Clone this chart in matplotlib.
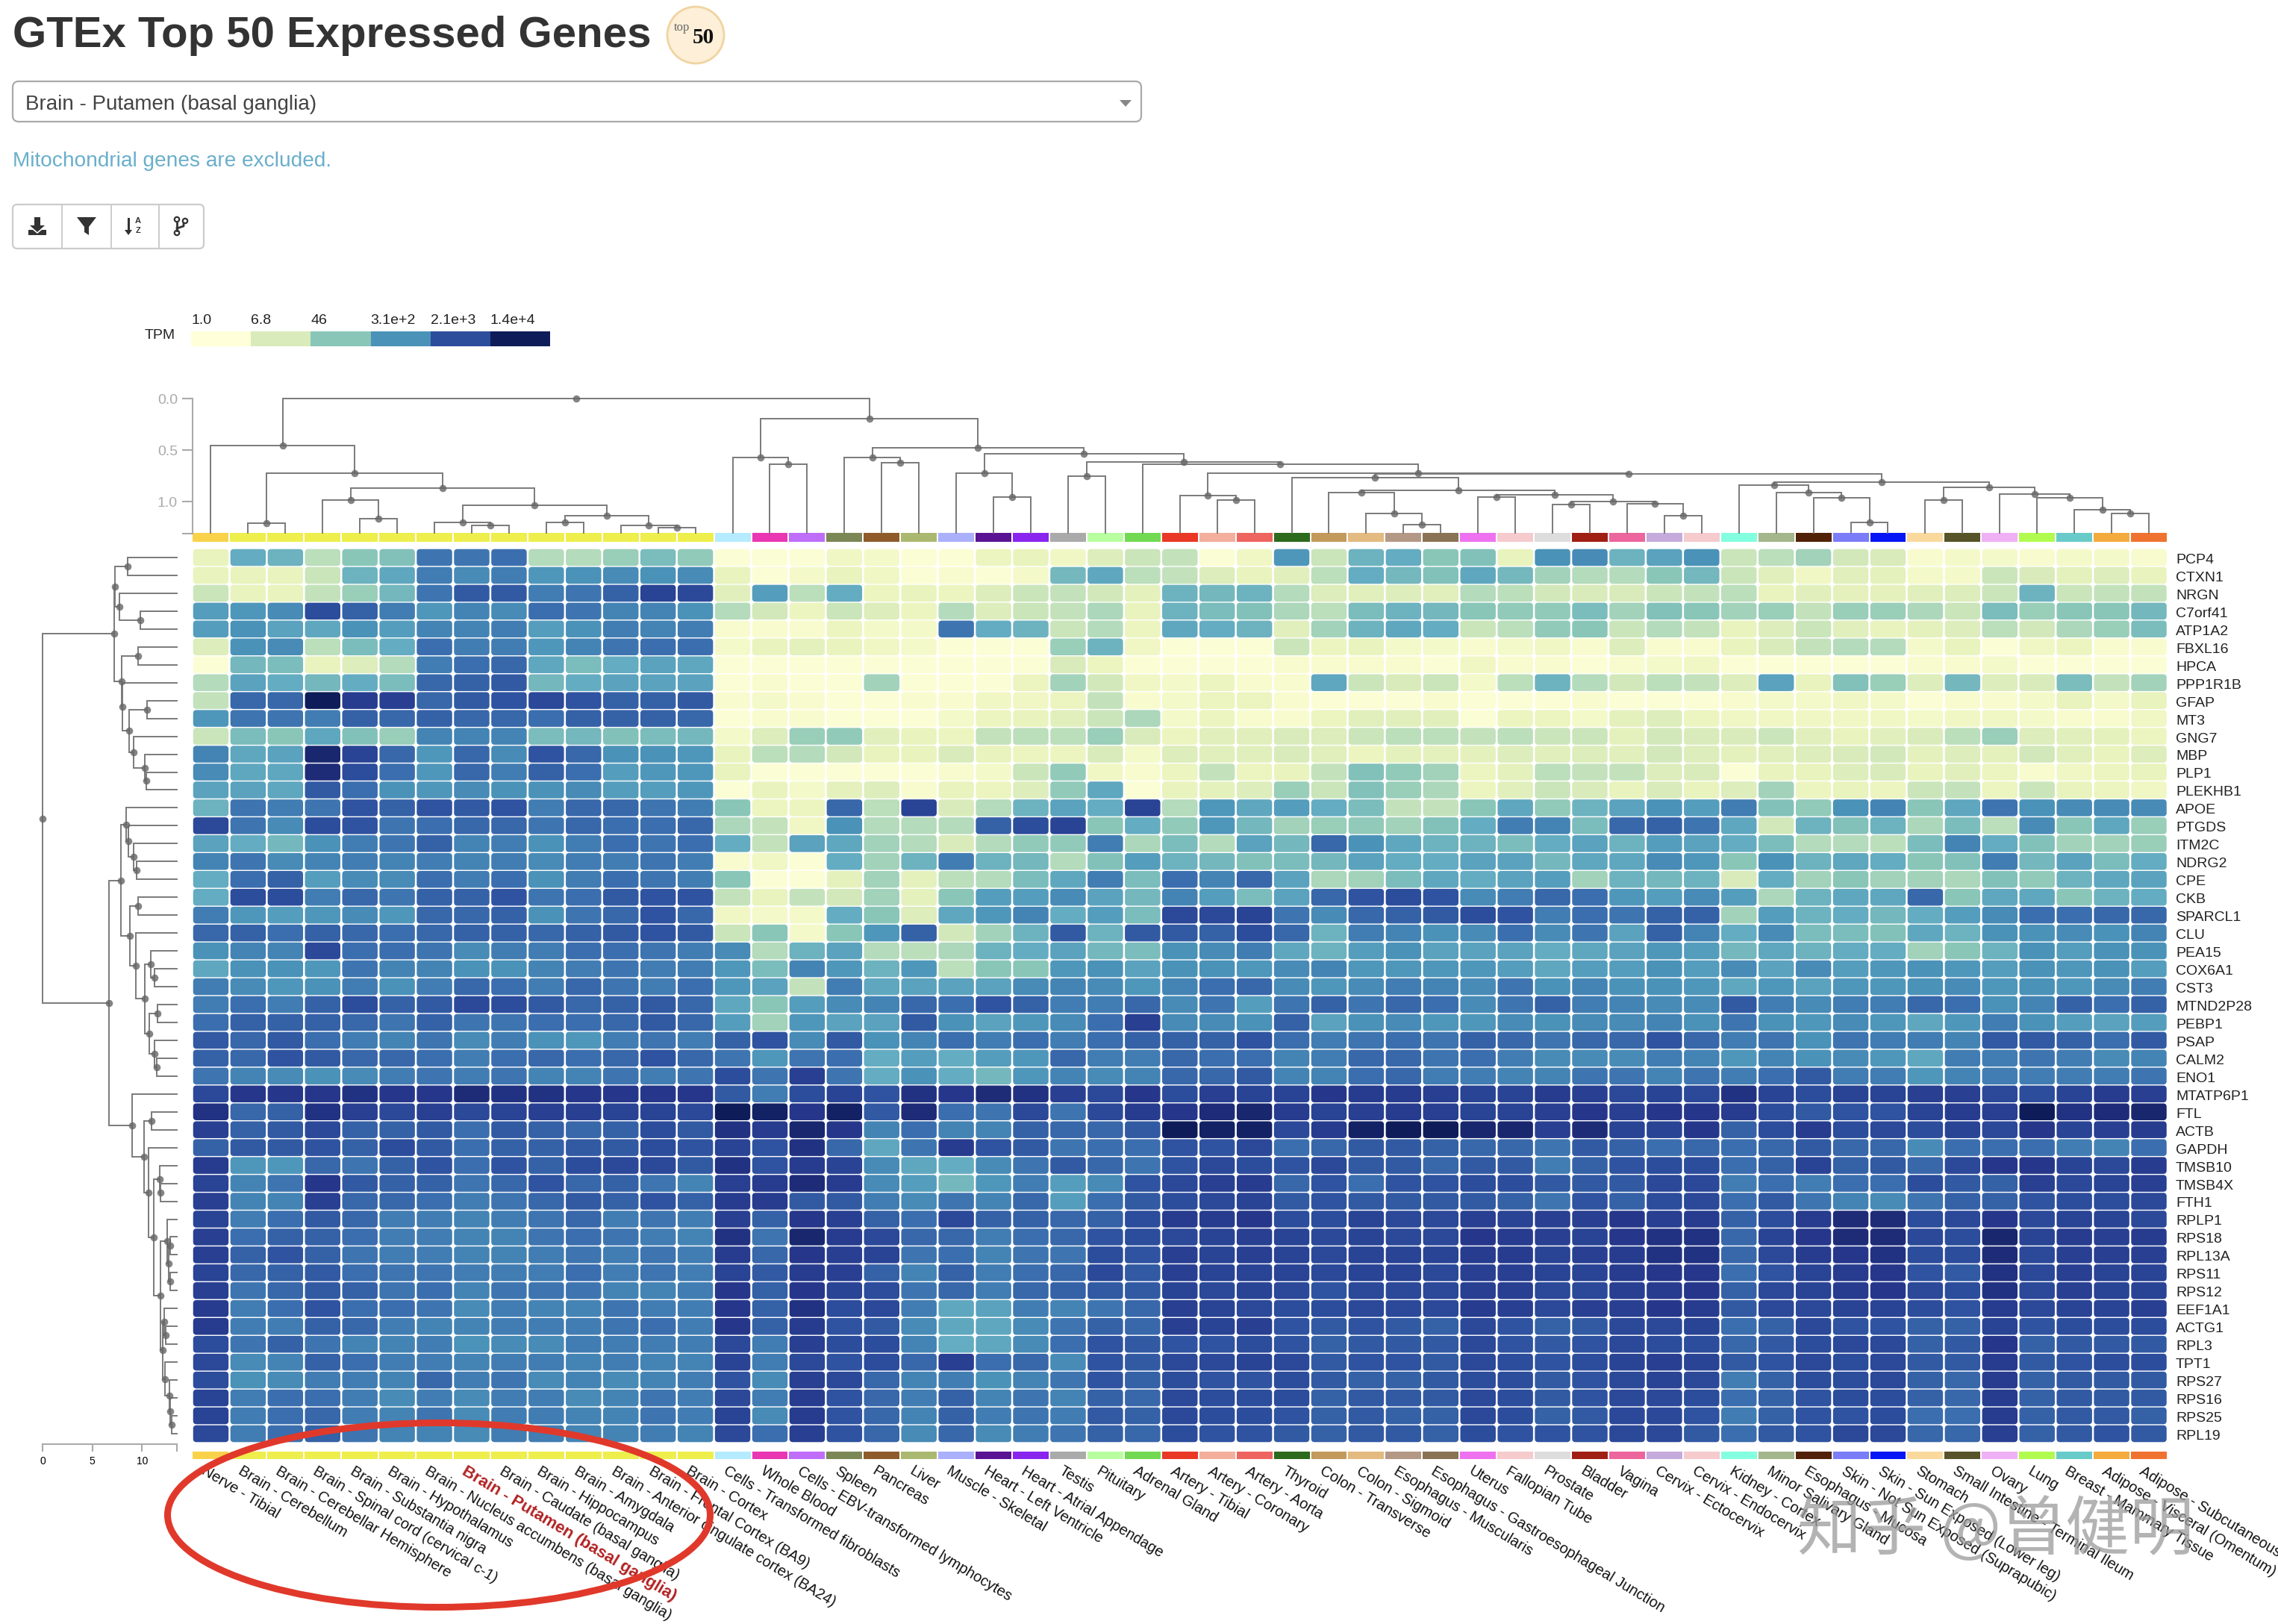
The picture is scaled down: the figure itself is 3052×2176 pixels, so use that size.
#--utf-8--
# GTEx top 50 expressed genes, clustered heatmap with dendrograms
import numpy as np
import matplotlib
matplotlib.use("Agg")
import matplotlib.pyplot as plt
from matplotlib.colors import LinearSegmentedColormap
from matplotlib.patches import FancyBboxPatch, Rectangle, Ellipse, Polygon, Circle

plt.rcParams['font.family'] = ['Liberation Sans', 'DejaVu Sans']

W, H = 3052, 2176
DPI = 100

tissues = ["Nerve - Tibial", "Brain - Cerebellum", "Brain - Cerebellar Hemisphere", "Brain - Spinal cord (cervical c-1)",
           "Brain - Substantia nigra", "Brain - Hypothalamus", "Brain - Nucleus accumbens (basal ganglia)",
           "Brain - Putamen (basal ganglia)", "Brain - Caudate (basal ganglia)", "Brain - Hippocampus", "Brain - Amygdala",
           "Brain - Anterior cingulate cortex (BA24)", "Brain - Frontal Cortex (BA9)", "Brain - Cortex",
           "Cells - Transformed fibroblasts", "Whole Blood", "Cells - EBV-transformed lymphocytes", "Spleen", "Pancreas",
           "Liver", "Muscle - Skeletal", "Heart - Left Ventricle", "Heart - Atrial Appendage", "Testis", "Pituitary",
           "Adrenal Gland", "Artery - Tibial", "Artery - Coronary", "Artery - Aorta", "Thyroid", "Colon - Transverse",
           "Colon - Sigmoid", "Esophagus - Muscularis", "Esophagus - Gastroesophageal Junction", "Uterus", "Fallopian Tube",
           "Prostate", "Bladder", "Vagina", "Cervix - Ectocervix", "Cervix - Endocervix", "Kidney - Cortex",
           "Minor Salivary Gland", "Esophagus - Mucosa", "Skin - Not Sun Exposed (Suprapubic)", "Skin - Sun Exposed (Lower leg)",
           "Stomach", "Small Intestine - Terminal Ileum", "Ovary", "Lung", "Breast - Mammary Tissue",
           "Adipose - Visceral (Omentum)", "Adipose - Subcutaneous"]
tissue_colors = ["#F9D24A"] + ["#EEEE4D"] * 13 + [
    "#B5EBFF", "#E936B3", "#BF6EFA", "#7B8755", "#8F5B2B", "#ABB86F", "#AAB0FC", "#5A1493", "#8A25F0", "#AAAAAA",
    "#B8FFA0", "#72D952", "#E93826", "#F4AE9C", "#EE6560", "#2D6A1C", "#C39A5C", "#E3BA7F", "#B49886", "#8A7355",
    "#EE72F0", "#F6CBCD", "#DDDDDD", "#A01F14", "#EC659C", "#C5ABDC", "#F6CBCD", "#83FFE0", "#A3B68C", "#512207",
    "#7A7CF8", "#0616F5", "#FAD99D", "#565428", "#F0B0F5", "#B1FB4F", "#68CBC9", "#F4AB3E", "#EF7231"]
highlight = "Brain - Putamen (basal ganglia)"

genes = ["PCP4", "CTXN1", "NRGN", "C7orf41", "ATP1A2", "FBXL16", "HPCA", "PPP1R1B", "GFAP", "MT3", "GNG7", "MBP", "PLP1",
         "PLEKHB1", "APOE", "PTGDS", "ITM2C", "NDRG2", "CPE", "CKB", "SPARCL1", "CLU", "PEA15", "COX6A1", "CST3", "MTND2P28",
         "PEBP1", "PSAP", "CALM2", "ENO1", "MTATP6P1", "FTL", "ACTB", "GAPDH", "TMSB10", "TMSB4X", "FTH1", "RPLP1", "RPS18",
         "RPL13A", "RPS11", "RPS12", "EEF1A1", "ACTG1", "RPL3", "TPT1", "RPS27", "RPS16", "RPS25", "RPL19"]

# colour level of each cell, 10 units per legend step (0 = 1.0 TPM, 50 = 1.4e+4 TPM)
PCP4 = [6,25,24,14,20,21,34,34,35,15,15,18,22,19, 1,1,1,4,3,1,1,5,6,4,9,12,13,1,4,29,12,24,25,20, 21,6,30,31,24,27,30,12,14,17,11,10,2,3,3,2,3,3,2]
CTXN1 = [6,6,6,12,24,26,33,31,33,29,30,31,30,31, 6,1,3,6,4,1,2,1,3,23,26,14,13,9,6,8,14,25,23,21, 26,23,17,15,15,20,23,12,8,4,8,7,3,3,12,10,7,9,6]
NRGN = [12,6,6,13,18,23,34,38,38,33,34,37,42,41, 8,28,14,25,5,6,5,9,12,13,11,7,24,23,24,15,9,8,9,8, 15,14,11,10,10,12,13,14,6,8,7,7,8,9,12,24,12,13,13]
C7orf41 = [28,29,31,40,37,33,29,32,31,35,34,32,32,30, 15,11,5,12,9,5,15,9,12,13,16,6,24,22,21,16,14,22,24,23, 20,19,19,22,17,21,20,17,18,13,18,18,16,12,22,18,20,20,23]
ATP1A2 = [28,30,27,26,30,28,32,32,33,28,30,33,32,33, 2,2,2,5,3,3,34,25,24,12,15,5,26,25,24,8,17,24,26,25, 12,14,19,20,12,15,13,6,9,12,8,6,7,9,14,11,16,18,22]
FBXL16 = [9,30,31,14,22,25,35,33,33,29,32,34,35,35, 3,6,7,6,4,3,1,1,1,18,24,4,1,1,1,12,5,6,3,3, 2,3,4,2,9,2,2,6,10,13,15,15,3,6,1,4,5,2,2]
HPCA = [1,23,22,6,9,15,33,35,36,26,22,25,27,26, 1,1,1,1,1,1,1,1,1,10,5,1,1,1,1,2,2,2,2,1, 4,2,2,1,2,3,4,1,1,1,1,1,2,2,3,1,1,1,1]
PPP1R1B = [15,27,25,23,25,22,36,37,38,23,25,27,27,27, 1,2,1,1,17,1,1,1,5,17,11,4,3,5,2,2,26,12,10,12, 3,14,24,15,11,14,13,9,27,6,21,18,9,23,9,10,22,13,17]
GFAP = [13,36,36,50,44,43,36,38,39,41,39,37,37,38, 2,3,2,1,1,2,2,4,4,5,13,2,3,5,5,2,1,1,1,2, 1,1,1,2,1,1,1,2,3,3,4,3,1,2,2,3,6,3,6]
MT3 = [29,34,34,33,37,36,37,36,36,35,37,37,37,36, 1,2,2,1,1,1,3,5,6,8,12,16,3,5,2,2,5,8,8,8, 1,5,5,3,7,9,5,4,4,4,4,4,3,4,4,3,2,2,4]
GNG7 = [12,22,20,26,21,18,32,32,32,22,23,21,22,23, 3,9,18,19,8,6,5,13,14,14,18,10,5,8,8,10,9,12,14,14, 13,14,12,12,7,11,10,10,12,8,6,8,10,14,18,9,8,7,5]
MBP = [32,26,27,48,42,36,29,36,31,39,36,30,30,29, 6,14,15,11,6,6,10,6,5,5,10,3,9,8,8,10,8,5,7,7, 7,9,8,9,8,11,9,7,8,9,10,11,7,9,7,11,8,6,9]
PLP1 = [31,26,26,47,40,35,29,36,33,37,35,28,29,29, 6,1,1,1,1,1,2,3,12,19,4,2,5,13,5,6,13,21,19,17, 5,7,14,13,13,9,10,1,6,6,9,10,6,8,5,2,4,5,6]
PLEKHB1 = [27,27,26,38,35,30,29,31,30,30,31,28,28,29, 1,6,3,7,9,2,6,5,9,19,26,1,6,7,9,18,12,21,18,16, 5,8,12,10,6,10,6,9,17,5,6,5,12,13,5,12,6,5,4]
APOE = [24,34,33,34,39,37,39,38,39,33,36,36,34,33, 20,5,5,36,14,42,10,15,24,27,25,42,15,29,26,28,25,22,13,13, 20,26,19,24,27,30,28,33,21,19,30,32,20,26,34,30,31,31,31]
PTGDS = [41,34,31,40,39,34,35,36,36,34,36,35,35,36, 16,13,4,30,15,15,15,37,40,42,20,25,19,29,23,17,18,19,17,21, 25,33,32,22,36,37,34,26,11,24,21,24,16,22,14,31,20,26,18]
ITM2C = [27,25,23,30,33,34,37,32,33,30,33,35,34,35, 25,13,27,26,17,15,10,15,19,19,33,16,22,15,27,23,36,30,26,24, 24,22,25,27,24,28,27,25,22,15,15,14,22,32,25,21,17,17,18]
NDRG2 = [32,34,31,32,33,32,33,32,33,31,33,33,34,33, 2,4,1,25,17,24,33,24,23,15,21,28,24,23,21,22,23,27,25,25, 27,27,23,26,26,31,29,20,30,24,26,25,20,21,33,23,27,22,25]
CPE = [25,35,37,28,31,31,35,33,35,30,33,35,34,33, 20,1,1,7,17,7,14,15,22,26,33,22,35,32,36,27,16,17,22,26, 25,27,28,17,24,23,24,10,25,17,20,17,17,16,21,19,24,26,27]
CKB = [25,40,40,33,36,34,37,37,39,34,35,38,39,39, 13,6,13,11,17,7,20,28,28,31,27,23,32,28,22,27,36,39,40,39, 31,33,36,35,29,28,31,28,16,24,26,26,36,20,26,26,20,24,25]
SPARCL1 = [33,29,28,29,31,29,36,36,37,30,34,36,39,36, 4,3,3,25,20,9,26,29,32,25,28,22,41,41,42,34,31,36,37,38, 40,39,33,35,34,37,37,17,28,24,25,23,25,28,31,35,35,36,36]
CLU = [36,37,35,37,36,35,36,37,37,36,37,38,39,38, 12,20,3,20,29,37,11,17,24,38,24,38,38,37,40,36,24,33,32,30, 31,35,31,34,27,37,32,25,31,22,22,21,26,24,30,30,31,30,32]
PEA15 = [30,32,32,41,35,35,34,31,33,33,35,35,34,33, 31,15,24,27,15,14,16,24,25,27,23,22,30,31,33,26,24,28,30,27, 27,27,25,26,27,29,28,23,26,24,25,25,17,20,24,30,28,30,30]
COX6A1 = [26,30,30,29,34,32,32,30,30,32,33,34,33,33, 29,22,32,29,24,29,14,20,20,29,30,27,30,30,29,31,32,29,29,29, 29,28,26,28,28,30,28,31,27,31,28,29,30,29,28,30,29,30,28]
CST3 = [33,31,29,30,33,30,33,36,35,33,36,34,33,35, 29,27,13,33,26,27,27,27,31,32,31,29,32,35,36,31,29,31,33,32, 31,34,30,32,30,30,29,26,29,27,29,29,30,31,29,30,29,31,33]
MTND2P28 = [33,35,33,37,40,37,38,41,40,38,36,37,38,36, 26,20,28,31,32,36,35,39,37,33,33,36,31,34,28,34,37,34,36,35, 31,34,37,33,32,31,31,38,33,31,33,33,36,35,30,32,37,35,37]
PEBP1 = [35,37,37,37,36,34,37,34,34,35,35,36,38,36, 28,17,29,27,27,38,30,27,29,31,35,43,31,31,30,37,27,30,31,29, 29,31,30,31,31,32,30,34,30,29,31,29,26,29,33,30,28,27,28]
PSAP = [38,36,38,35,33,32,34,31,33,30,29,33,34,33, 37,39,31,38,30,32,35,33,35,33,35,37,37,37,39,35,33,34,35,34, 37,36,34,36,36,39,36,33,34,30,34,33,33,32,38,38,37,35,38]
CALM2 = [37,36,39,38,36,36,35,33,35,36,35,36,39,36, 34,29,34,35,25,28,25,28,29,36,33,33,36,35,35,32,33,36,36,34, 35,33,31,31,31,33,32,29,32,30,31,29,26,33,33,34,33,31,32]
ENO1 = [34,32,31,30,31,33,34,33,34,32,32,34,33,34, 40,34,43,34,25,30,25,23,29,32,31,32,36,36,38,32,32,35,36,33, 33,32,32,34,34,32,34,33,35,38,33,33,29,32,33,33,33,33,34]
MTATP6P1 = [41,45,45,45,46,45,45,47,46,46,45,45,45,45, 38,33,40,42,39,46,45,47,46,43,41,45,40,43,42,42,45,44,44,43, 42,42,44,43,41,42,41,46,42,40,42,42,43,43,41,40,42,44,43]
FTL = [46,36,37,46,43,41,43,41,42,43,43,42,42,41, 50,49,45,49,38,47,35,34,41,34,41,44,45,47,48,44,42,43,44,43, 42,42,43,45,43,45,45,44,40,38,39,39,42,44,43,50,46,47,48]
ACTB = [43,37,38,41,37,37,38,35,38,37,36,37,40,38, 46,44,48,45,32,35,32,32,37,36,36,38,50,49,49,41,44,49,50,50, 48,48,43,47,42,42,45,37,40,44,40,41,40,42,41,45,42,43,44]
GAPDH = [37,38,38,39,37,40,38,35,37,37,38,38,40,39, 42,39,46,36,26,34,44,39,38,34,35,35,39,39,41,35,36,38,38,37, 36,36,34,38,37,35,36,35,36,38,36,36,31,35,35,35,33,32,35]
TMSB10 = [44,29,29,36,34,37,39,35,39,37,40,41,41,38, 46,39,44,42,31,26,25,31,34,38,36,34,39,41,40,39,41,38,38,36, 38,38,33,37,39,40,40,35,37,42,37,38,36,41,45,45,42,41,44]
TMSB4X = [42,32,34,45,38,37,37,34,36,39,36,37,34,32, 43,44,47,44,31,28,23,29,33,28,31,39,41,43,44,36,39,35,39,39, 40,40,38,38,38,41,41,33,35,33,35,35,40,38,37,43,41,42,43]
FTH1 = [43,32,32,43,36,36,35,33,34,36,38,37,39,37, 44,44,38,38,33,31,34,32,36,28,35,38,40,41,42,38,39,38,38,38, 38,37,34,39,37,40,41,35,38,34,32,31,34,37,37,39,40,40,41]
RPLP1 = [42,33,35,38,36,33,33,32,33,34,36,33,34,33, 43,37,45,43,37,35,41,37,37,36,37,40,44,44,45,40,40,42,41,41, 43,42,43,43,45,43,44,37,40,44,47,47,40,41,45,41,42,42,41]
RPS18 = [43,35,37,37,35,33,33,32,32,34,35,34,33,32, 46,34,48,44,41,36,36,33,35,36,39,40,41,42,43,42,41,42,41,41, 45,44,43,42,45,46,46,36,42,45,47,47,41,40,48,42,44,43,44]
RPL13A = [43,37,39,37,34,33,33,32,32,33,34,33,34,33, 44,36,45,43,42,34,35,32,34,34,40,39,43,42,43,42,41,42,42,42, 44,44,42,43,44,46,46,36,41,44,45,46,40,40,47,41,43,43,43]
RPS11 = [42,36,37,38,35,34,34,33,33,33,35,33,34,33, 42,38,44,43,37,32,37,33,35,36,41,38,43,42,42,42,41,42,42,41, 43,43,42,42,44,45,45,35,39,42,44,45,39,38,46,41,43,42,42]
RPS12 = [43,34,36,38,37,34,35,32,34,34,34,32,32,33, 45,37,45,42,40,34,36,33,36,37,38,38,42,41,42,41,39,41,41,41, 43,43,41,41,43,44,45,37,41,42,44,45,41,40,46,41,43,42,42]
EEF1A1 = [44,33,35,39,35,35,34,31,33,32,32,34,33,33, 45,37,46,40,41,33,26,27,33,32,34,36,43,42,41,40,40,41,41,41, 44,43,41,43,43,45,44,38,41,41,42,42,40,39,44,41,42,42,43]
ACTG1 = [44,33,33,37,36,33,32,32,33,33,33,34,35,33, 45,37,44,39,38,31,26,26,31,34,37,36,43,42,43,39,38,39,38,37, 41,39,37,38,41,41,42,35,37,41,39,39,37,37,42,39,40,40,40]
RPL3 = [40,34,37,34,32,32,33,30,31,31,33,33,33,33, 41,33,43,40,40,32,25,26,31,35,39,38,39,39,40,39,37,38,38,38, 41,39,38,39,41,40,40,36,38,40,41,41,37,38,45,37,38,38,38]
TPT1 = [41,31,32,37,35,33,33,32,33,33,32,33,32,32, 42,33,41,39,40,36,43,35,36,31,39,38,41,41,42,41,38,39,39,38, 41,40,39,40,42,43,42,38,39,41,40,41,38,38,44,38,39,40,40]
RPS27 = [40,30,31,33,33,32,36,33,34,31,32,31,32,33, 39,31,43,41,36,32,33,30,32,34,39,37,40,39,39,40,38,37,37,38, 40,40,38,39,41,42,41,33,37,40,40,41,37,36,44,37,38,38,38]
RPS16 = [42,33,35,35,33,31,33,31,33,33,31,32,34,33, 41,33,44,39,36,33,37,32,34,32,37,36,41,40,40,40,37,38,38,38, 41,40,38,39,41,41,40,35,37,39,40,40,37,36,44,37,38,38,38]
RPS25 = [42,33,35,36,33,32,34,31,33,33,32,32,34,33, 42,31,44,39,36,32,37,33,34,33,38,37,41,40,40,39,37,38,37,37, 41,40,37,38,41,41,39,33,37,39,39,40,35,35,44,37,38,38,37]
RPL19 = [41,33,35,37,34,32,32,31,33,33,32,32,33,32, 41,35,43,39,36,31,36,31,33,34,37,36,40,39,39,38,37,38,38,37, 40,39,39,39,41,41,38,35,38,39,41,41,36,36,43,37,38,39,38]

# merge trees: (height, child, child), an int is a leaf index
brain_tree = (0.725, (1.21, 1, 2),
              (0.865, (0.985, 3, (1.165, 4, 5)),
               (1.035, (1.2, 6, (1.23, 7, 8)),
                (1.135, (1.2, 9, 10), (1.23, 11, (1.25, 12, 13))))))
skin_tree = (0.84, 41, (0.91, 42, (0.965, 43, (1.2, 44, 45))))
gut_tree = (0.86, (0.985, 46, 47), (0.93, 48, (0.965, 49, (1.08, 50, (1.115, 51, 52)))))
colon_tree = (0.89, (0.91, 30, (1.115, 31, (1.225, 32, 33))),
              (0.935, (0.957, 34, 35), (1.0, (1.03, 36, 37), (1.02, 38, (1.135, 39, 40)))))
rest_tree = (0.536, (0.725, 20, (0.957, 21, 22)),
             (0.616, (0.754, 23, 24),
              (0.637, 25, (0.725, (0.94, 26, (0.985, 27, 28)),
                           (0.73, (0.768, 29, colon_tree), (0.81, skin_tree, gut_tree))))))
col_tree = (0.0, (0.457, 0, brain_tree),
            (0.196, (0.57, 14, (0.64, 15, 16)),
             (0.478, (0.574, 17, (0.623, 18, 19)), rest_tree)))

row_tree = (0.0,
            (7.2, (7.25, (8.55, 0, 1), (7.73, 2, (9.83, 3, 4))),
             (7.97, (9.6, 5, 6),
              (8.05, 7, (8.72, (10.48, 8, 9),
                         (9.17, 10, (10.28, 11, (10.4, 12, 13))))))),
            (6.68,
             (7.88, (8.42, 14, (8.65, 15, (9.15, 16, (9.47, 17, 18)))),
              (8.78, (9.58, 19, 20),
               (9.38, 21, (10.28, (10.85, 22, (11.25, 23, 24)),
                           (10.75, (11.53, 25, 26), (11.23, 27, (11.48, 28, 29))))))),
             (9.02, 30,
              (10.18, (10.95, 31, 32),
               (10.65, 33,
                (11.2, (11.78, 34, (11.85, 35, 36)),
                 (11.85, (12.55, 37, (12.7, (12.85, 38, 39), (12.85, 40, 41))),
                  (12.05, (12.2, 42, (12.4, 43, 44)),
                   (12.28, 45, (12.75, 46, (12.85, 47, (12.95, 48, 49))))))))))))

legend_labels = ["1.0", "6.8", "46", "3.1e+2", "2.1e+3", "1.4e+4"]
legend_levels = [0, 10, 20, 30, 40, 50]
top_ticks = [0.0, 0.5, 1.0]
left_ticks = [0, 5, 10]

TREE_COLOR = "#7a7a7a"
AXIS_COLOR = "#aaaaaa"
level_stops = [0, 5, 10, 15, 20, 25, 30, 35, 40, 45, 47.5, 50]
level_colors = ["#FFFFD9", "#ECF5BE", "#D9EBBA", "#B3DBBB", "#89C6B8", "#65ADC1", "#4A92B8", "#3B6FAE", "#2C4C9C", "#26388C", "#1C2A74", "#0E1D59"]
cmap = LinearSegmentedColormap.from_list("tpm", [(s / 50, c) for s, c in zip(level_stops, level_colors)])


def px_axes(fig, x0, y0, x1, y1):
    ax = fig.add_axes([x0 / W, 1 - y1 / H, (x1 - x0) / W, (y1 - y0) / H])
    ax.patch.set_alpha(0)
    return ax


def draw_tree(ax, node, leaf_h, vertical):
    # returns (position along the leaves, height of this node)
    if isinstance(node, (int, np.integer)):
        return node + 0.5, leaf_h
    h, a, b = node
    pa, ha = draw_tree(ax, a, leaf_h, vertical)
    pb, hb = draw_tree(ax, b, leaf_h, vertical)
    pos = (pa + pb) / 2
    path_p = [pa, pa, pb, pb]
    path_h = [ha, h, h, hb]
    if vertical:
        ax.plot(path_p, path_h, color=TREE_COLOR, lw=1.4, solid_joinstyle="miter", clip_on=False, zorder=2)
        ax.scatter([pos], [h], s=48, color="#666666", alpha=0.8, lw=0, clip_on=False, zorder=3)
    else:
        ax.plot(path_h, path_p, color=TREE_COLOR, lw=1.4, solid_joinstyle="miter", clip_on=False, zorder=2)
        ax.scatter([h], [pos], s=48, color="#666666", alpha=0.8, lw=0, clip_on=False, zorder=3)
    return pos, h


def draw_strip(ax, colors):
    ax.set_xlim(0, len(colors))
    ax.set_ylim(0, 1)
    for i, c in enumerate(colors):
        ax.add_patch(Rectangle((i + 0.02, 0), 0.96, 1, color=c, lw=0))
    ax.set_xticks([])
    ax.set_yticks([])
    for s in ax.spines.values():
        s.set_visible(False)


def draw_chrome(ax):
    # page furniture in pixel coordinates
    ax.set_xlim(0, W)
    ax.set_ylim(H, 0)
    ax.axis("off")
    ax.text(17, 48, "GTEx Top 50 Expressed Genes", fontsize=41.9, fontweight="bold", color="#333333", va="center")
    ax.add_patch(Circle((932, 47), 38, fc="#FDEFD8", ec="#F0D4A0", lw=2))
    ax.text(914, 37, "top", family="Liberation Serif", fontsize=12, color="#666666", ha="center", va="center")
    ax.text(942, 51, "50", family="Liberation Serif", fontsize=21, fontweight="bold", color="#111111", ha="center", va="center")
    ax.add_patch(FancyBboxPatch((17, 109), 1512, 54, boxstyle="round,pad=0,rounding_size=8", fc="white", ec="#aaaaaa", lw=1.6))
    ax.text(34, 140, "Brain - Putamen (basal ganglia)", fontsize=20, color="#444444", va="center")
    ax.add_patch(Polygon([[1500, 134], [1516, 134], [1508, 143]], color="#888888", lw=0))
    ax.text(17, 216, "Mitochondrial genes are excluded.", fontsize=20.2, color="#6AAFCB", va="center")
    # button group
    ax.add_patch(FancyBboxPatch((17, 274), 256, 59, boxstyle="round,pad=0,rounding_size=6", fc="white", ec="#cccccc", lw=1.6))
    for x in [83, 149, 213]:
        ax.plot([x, x], [274, 333], color="#cccccc", lw=1.4)
    ic = "#333333"
    ax.add_patch(Polygon([[46, 291], [54, 291], [54, 302], [60, 302], [50, 311], [40, 302], [46, 302]], color=ic, lw=0))
    ax.add_patch(Polygon([[38, 308], [44, 308], [50, 313], [56, 308], [62, 308], [62, 315], [38, 315]], color=ic, lw=0))
    ax.add_patch(Polygon([[103, 291], [129, 291], [119, 304], [119, 315], [113, 311], [113, 304]], color=ic, lw=0))
    ax.plot([172, 172], [293, 311], color=ic, lw=2.2)
    ax.add_patch(Polygon([[167, 308], [177, 308], [172, 315]], color=ic, lw=0))
    ax.text(185, 296, "A", fontsize=8, fontweight="bold", color=ic, ha="center", va="center")
    ax.text(185, 309, "Z", fontsize=8, fontweight="bold", color=ic, ha="center", va="center")
    ax.plot([237, 237], [297, 309], color=ic, lw=2)
    ax.plot([237, 246, 246], [306, 303, 299], color=ic, lw=2)
    for cx, cy in [(237, 294), (237, 312), (248, 296)]:
        ax.add_patch(Circle((cx, cy), 3.2, fc="white", ec=ic, lw=1.6))
    # TPM legend
    ax.text(194, 449, "TPM", fontsize=14, color="#222222", va="center")
    for i, lab in enumerate(legend_labels):
        ax.add_patch(Rectangle((256 + 80.2 * i, 444), 80.2, 20, color=cmap(legend_levels[i] / 50), lw=0))
        ax.text(256 + 80.2 * i, 429, lab, fontsize=14, color="#222222", va="center")
    # red circle drawn over the screenshot
    ax.add_patch(Ellipse((588, 2030), 727, 247, fc="none", ec="#E0392B", lw=6.5, zorder=10))
    # watermark
    ax.text(2408, 2052, "知乎 @曾健明", family=["Noto Sans CJK SC", "DejaVu Sans"], fontsize=62, color="#9a9a9a", alpha=0.75,
            va="center", zorder=11)


def main():
    names = globals()
    for g in genes:
        if len(names[g]) != 53:
            raise ValueError(g + " has " + str(len(names[g])))
    levels = np.array([names[g] for g in genes], dtype=float)
    n_rows, n_cols = levels.shape

    fig = plt.figure(figsize=(W / DPI, H / DPI), dpi=DPI, facecolor="white")
    X0, X1 = 257.5, 2904
    Y0, Y1 = 735, 1933

    # heatmap
    ax = px_axes(fig, X0, Y0, X1, Y1)
    ax.set_xlim(0, n_cols)
    ax.set_ylim(n_rows, 0)
    for r in range(n_rows):
        for c in range(n_cols):
            ax.add_patch(FancyBboxPatch((c + 0.025, r + 0.03), 0.95, 0.94,
                                        boxstyle="round,pad=0,rounding_size=0.09", mutation_aspect=2.08,
                                        fc=cmap(levels[r, c] / 50), ec="none"))
    ax.set_xticks([])
    ax.yaxis.tick_right()
    ax.set_yticks(np.arange(n_rows) + 0.56)
    ax.set_yticklabels(genes, fontsize=14, color="#222222")
    ax.tick_params(axis="y", length=0, pad=8)
    for s in ax.spines.values():
        s.set_visible(False)

    # colour strips
    top_strip = px_axes(fig, X0, 714, X1, 725.5)
    draw_strip(top_strip, tissue_colors)
    bottom_strip = px_axes(fig, X0, 1944.5, X1, 1955)
    draw_strip(bottom_strip, tissue_colors)
    for i, name in enumerate(tissues):
        is_hl = name == highlight
        bottom_strip.annotate(name, xy=(i + 0.5, 0), xycoords=("data", "axes fraction"), xytext=(-8, -10.5),
                              textcoords="offset points", rotation=-31, rotation_mode="anchor", ha="left", va="center",
                              fontsize=16 if is_hl else 14.4, color="#B22222" if is_hl else "#111111",
                              fontweight="bold" if is_hl else "normal")

    # column dendrogram
    top = px_axes(fig, X0, 534, X1, 715)
    top.set_xlim(0, n_cols)
    top.set_ylim(1.31, 0)
    draw_tree(top, col_tree, 1.3, True)
    top.set_xticks([])
    top.set_yticks(top_ticks + [1.31])
    top.set_yticklabels([f"{t:.1f}" for t in top_ticks] + [""], fontsize=14, color=AXIS_COLOR)
    top.tick_params(axis="y", length=10, width=1.5, color=AXIS_COLOR, pad=4)
    for s in ["top", "right", "bottom"]:
        top.spines[s].set_visible(False)
    top.spines["left"].set_color(AXIS_COLOR)
    top.spines["left"].set_linewidth(1.5)

    # row dendrogram
    left = px_axes(fig, 57, Y0, 237, Y1)
    left.set_xlim(0, 13.5)
    left.set_ylim(n_rows, 0)
    draw_tree(left, row_tree, 13.5, False)
    left.set_yticks([])
    left.set_xticks(left_ticks + [13.5])
    left.set_xticklabels([str(t) for t in left_ticks] + [""], fontsize=15, color=AXIS_COLOR)
    left.tick_params(axis="x", length=7.5, width=1.5, color=AXIS_COLOR, pad=4)
    for s in ["top", "right", "left"]:
        left.spines[s].set_visible(False)
    left.spines["bottom"].set_color(AXIS_COLOR)
    left.spines["bottom"].set_linewidth(1.5)
    left.spines["bottom"].set_position(("outward", 1.5))

    overlay = px_axes(fig, 0, 0, W, H)
    overlay.set_zorder(20)
    draw_chrome(overlay)

    fig.savefig("out.png", dpi=DPI, facecolor="white")


if __name__ == '__main__':
    main()
